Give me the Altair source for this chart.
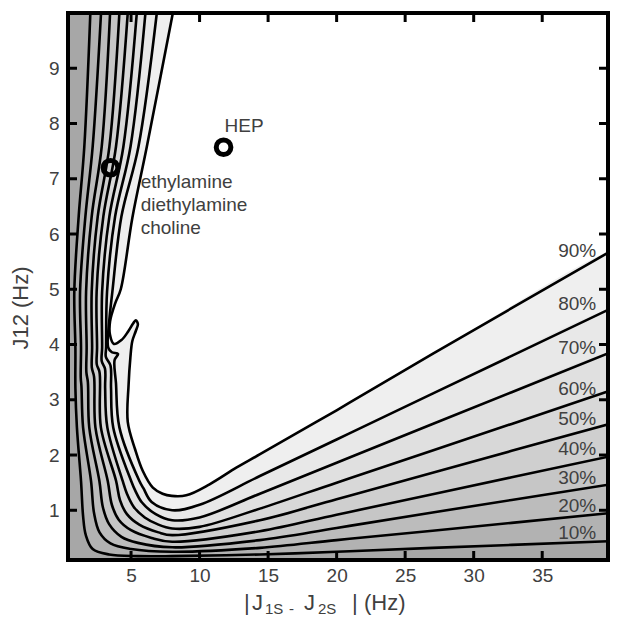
import altair as alt
import pandas as pd

# ---------------- data ----------------
X_TICKS = [5, 10, 15, 20, 25, 30, 35]
Y_TICKS = [1, 2, 3, 4, 5, 6, 7, 8, 9]
LEVELS = [10, 20, 30, 40, 50, 60, 70, 80, 90]

C10 = [(2.03, 10), (1.59, 7.58), (1.18, 6.32), (0.86, 4.96), (0.94, 3.94), (0.94, 3.21),
       (1.05, 2.5), (1.35, 1.53), (1.5, 0.9), (1.7, 0.55), (2.2, 0.3), (3.4, 0.2), (5.5, 0.17),
       (8, 0.17), (14.4, 0.2), (20, 0.25), (27, 0.32), (40, 0.44)]
C20 = [(2.81, 10), (2.2, 7.58), (1.67, 6.32), (1.28, 4.96), (1.35, 3.94), (1.33, 3.4),
       (1.38, 3.25), (1.5, 2.5), (2.08, 1.53), (2.3, 0.95), (2.7, 0.6), (3.5, 0.4), (5, 0.3),
       (8, 0.25), (14.4, 0.32), (20, 0.46), (27, 0.63), (40, 0.95)]
C30 = [(3.47, 10), (2.86, 7.58), (2.13, 6.32), (1.72, 4.96), (1.76, 3.94), (1.74, 3.5),
       (1.85, 3.32), (1.95, 2.5), (2.69, 1.53), (2.95, 1.05), (3.4, 0.75), (4.3, 0.52),
       (5.5, 0.41), (8, 0.33), (14.4, 0.46), (20, 0.68), (27, 0.96), (40, 1.47)]
C40 = [(4.15, 10), (3.42, 7.58), (2.57, 6.32), (2.13, 4.96), (2.16, 3.94), (2.14, 3.58),
       (2.3, 3.42), (2.4, 2.5), (3.3, 1.53), (3.6, 1.1), (4.1, 0.83), (5, 0.64), (6.5, 0.5),
       (8, 0.43), (14.4, 0.62), (20, 0.92), (27, 1.29), (40, 1.98)]
C50 = [(4.76, 10), (3.9, 7.58), (2.98, 6.32), (2.49, 4.96), (2.52, 3.94), (2.5, 3.64),
       (2.7, 3.5), (2.8, 2.5), (3.91, 1.53), (4.2, 1.18), (4.7, 0.93), (5.6, 0.74), (7, 0.6),
       (8, 0.55), (14.4, 0.82), (20, 1.2), (27, 1.68), (40, 2.57)]
C60 = [(5.42, 10), (4.44, 7.58), (3.42, 6.32), (2.89, 4.96), (2.89, 3.94), (2.86, 3.7),
       (3.1, 3.56), (3.11, 3.21), (3.27, 2.5), (4.39, 1.53), (4.7, 1.3), (5.2, 1.06), (6, 0.87),
       (7, 0.74), (8, 0.67), (10, 0.7), (14.4, 1.03), (20, 1.5), (27, 2.08), (40, 3.17)]
C70 = [(6.05, 10), (4.96, 7.58), (3.84, 6.32), (3.25, 4.96), (3.18, 3.94), (3.16, 3.78),
       (3.5, 3.62), (3.54, 3.21), (3.7, 2.5), (5.01, 1.53), (5.3, 1.36), (5.8, 1.14),
       (6.8, 0.93), (8, 0.82), (10, 0.87), (14.4, 1.3), (20, 1.86), (27, 2.56), (40, 3.86)]
C80 = [(6.88, 10), (5.54, 7.58), (4.3, 6.32), (3.64, 4.96), (3.4, 4.4), (3.33, 3.95),
       (3.6, 3.86), (4.05, 3.83), (3.8, 3.72), (3.9, 3.3), (4.15, 2.5), (5.61, 1.53),
       (5.9, 1.4), (6.5, 1.15), (8, 1.0), (10, 1.1), (14.4, 1.62), (20, 2.28), (27, 3.11),
       (40, 4.65)]
C90 = [(8.05, 10), (6.15, 7.58), (5.1, 6.3), (4.25, 5.0), (3.85, 4.75), (3.47, 4.42),
       (3.46, 4.18), (3.75, 4.01), (4.3, 4.08), (4.8, 4.24), (5.15, 4.38), (5.34, 4.44),
       (5.5, 4.37), (5.34, 4.24), (5.09, 4.06), (4.95, 3.76), (4.82, 3.27), (4.76, 2.6),
       (5.3, 2.1), (5.86, 1.71), (6.59, 1.41), (7.3, 1.3), (7.97, 1.26), (9.03, 1.27),
       (10.73, 1.47), (12.68, 1.77), (14.38, 2.01), (20, 2.81), (27, 3.83), (40, 5.69)]
CONTOURS = [C10, C20, C30, C40, C50, C60, C70, C80, C90]

# grey of the region just below each level
BAND_FILL = ["#a7a7a7", "#b2b2b2", "#bcbcbc", "#c6c6c6", "#cfcfcf",
             "#d8d8d8", "#e0e0e0", "#e8e8e8", "#efefef"]

LABEL_X = 38.94
LABEL_Y = [0.59, 1.07, 1.59, 2.10, 2.65, 3.20, 3.94, 4.74, 5.70]

POINT_X = [3.5, 11.75]
POINT_Y = [7.2, 7.57]

ANNOT_TEXT = ["HEP", "ethylamine", "diethylamine", "choline"]
ANNOT_X = [11.82, 5.7, 5.7, 5.7]
ANNOT_Y = [7.95, 6.95, 6.52, 6.10]

# ---------------- layout ----------------
W, H = 540, 547
XD = [0.4, 39.8]
YD = [0.1, 10.0]
FONT = "Liberation Sans"
TXT = "#404040"

xs = alt.Scale(domain=XD, nice=False, zero=False)
ys = alt.Scale(domain=YD, nice=False, zero=False)

x_axis = alt.Axis(values=X_TICKS, ticks=False, domain=False, grid=False, title=None,
                  labelFontSize=19, labelColor=TXT, labelFont=FONT, labelPadding=6,
                  labelFlush=False)
y_axis = alt.Axis(values=Y_TICKS, ticks=False, domain=False, grid=False, title=None,
                  labelFontSize=19, labelColor=TXT, labelFont=FONT, labelPadding=9,
                  labelFlush=False)


def X(field):
    return alt.X(field, scale=xs, axis=x_axis)


def Y(field):
    return alt.Y(field, scale=ys, axis=y_axis)


layers = []

# filled regions, largest (below 90%) first
for k in range(len(LEVELS) - 1, -1, -1):
    pts = CONTOURS[k]
    poly = [(pts[0][0], 11.0)] + pts + [(41.0, pts[-1][1]), (41.0, -1.0), (-1.0, -1.0), (-1.0, 11.0)]
    df = pd.DataFrame({"i": list(range(len(poly))),
                       "x": [p[0] for p in poly], "y": [p[1] for p in poly]})
    layers.append(
        alt.Chart(df).mark_line(fill=BAND_FILL[k], strokeOpacity=0, strokeWidth=0,
                                interpolate="catmull-rom", clip=True).encode(
            x=X("x:Q"), y=Y("y:Q"), order=alt.Order("i:Q"),
        )
    )

# contour lines
rows = []
for lev, pts in zip(LEVELS, CONTOURS):
    for i, (x, y) in enumerate(pts):
        rows.append({"level": lev, "i": i, "x": x, "y": y})
lines_df = pd.DataFrame(rows)
layers.append(
    alt.Chart(lines_df).mark_line(color="black", strokeWidth=2.6,
                                  interpolate="catmull-rom", clip=True).encode(
        x=X("x:Q"), y=Y("y:Q"), detail="level:N", order=alt.Order("i:Q"),
    )
)

# inward ticks on all four sides
xt = pd.DataFrame({"x": X_TICKS})
yt = pd.DataFrame({"y": Y_TICKS})
TL = 9
layers.append(alt.Chart(xt).mark_rule(color="black", strokeWidth=3).encode(
    x=X("x:Q"), y=alt.value(H), y2=alt.value(H - TL)))
layers.append(alt.Chart(xt).mark_rule(color="black", strokeWidth=3).encode(
    x=X("x:Q"), y=alt.value(0), y2=alt.value(TL)))
layers.append(alt.Chart(yt).mark_rule(color="black", strokeWidth=3).encode(
    y=Y("y:Q"), x=alt.value(0), x2=alt.value(TL)))
layers.append(alt.Chart(yt).mark_rule(color="black", strokeWidth=3).encode(
    y=Y("y:Q"), x=alt.value(W), x2=alt.value(W - TL)))

# frame
layers.append(alt.Chart(pd.DataFrame({"a": [0]})).mark_rect(
    fillOpacity=0, stroke="black", strokeWidth=4).encode(
    x=alt.value(0), x2=alt.value(W), y=alt.value(0), y2=alt.value(H)))

# percent labels
lab_df = pd.DataFrame({"t": [f"{l}%" for l in LEVELS], "x": [LABEL_X] * len(LEVELS), "y": LABEL_Y})
layers.append(alt.Chart(lab_df).mark_text(align="right", baseline="middle", fontSize=19,
                                           font=FONT, color=TXT).encode(
    x=X("x:Q"), y=Y("y:Q"), text="t:N"))

# sample circles
pt_df = pd.DataFrame({"x": POINT_X, "y": POINT_Y})
layers.append(alt.Chart(pt_df).mark_point(shape="circle", size=215, strokeWidth=5,
                                          color="black", filled=False, opacity=1).encode(
    x=X("x:Q"), y=Y("y:Q")))

# annotations
an_df = pd.DataFrame({"t": ANNOT_TEXT, "x": ANNOT_X, "y": ANNOT_Y})
layers.append(alt.Chart(an_df).mark_text(align="left", baseline="middle", fontSize=19,
                                          font=FONT, color=TXT).encode(
    x=X("x:Q"), y=Y("y:Q"), text="t:N"))

# x title with subscripts (pixel layout)
xt_norm = pd.DataFrame({"t": ["|", "J", "J", "|", "(Hz)"], "px": [176, 184, 236, 284, 296]})
xt_sub = pd.DataFrame({"t": ["1S", "-", "2S"], "px": [197, 221, 250]})
layers.append(alt.Chart(xt_norm).mark_text(align="left", baseline="alphabetic", fontSize=22,
                                            font=FONT, color=TXT).encode(
    x=alt.X("px:Q", scale=None), y=alt.value(597), text="t:N"))
layers.append(alt.Chart(xt_sub).mark_text(align="left", baseline="alphabetic", fontSize=15,
                                           font=FONT, color=TXT).encode(
    x=alt.X("px:Q", scale=None), y=alt.value(601), text="t:N"))

# y title
layers.append(alt.Chart(pd.DataFrame({"t": ["J12 (Hz)"]})).mark_text(
    angle=270, align="center", baseline="middle", fontSize=22, font=FONT, color=TXT).encode(
    x=alt.value(-47), y=alt.value(295), text="t:N"))

chart = alt.layer(*layers).properties(
    width=W, height=H,
    padding={"left": 60, "top": 5, "right": 8, "bottom": 56},
    autosize="none",
).configure_view(stroke=None)

chart.save("out.html", embed_options={"renderer": "svg", "actions": False})
